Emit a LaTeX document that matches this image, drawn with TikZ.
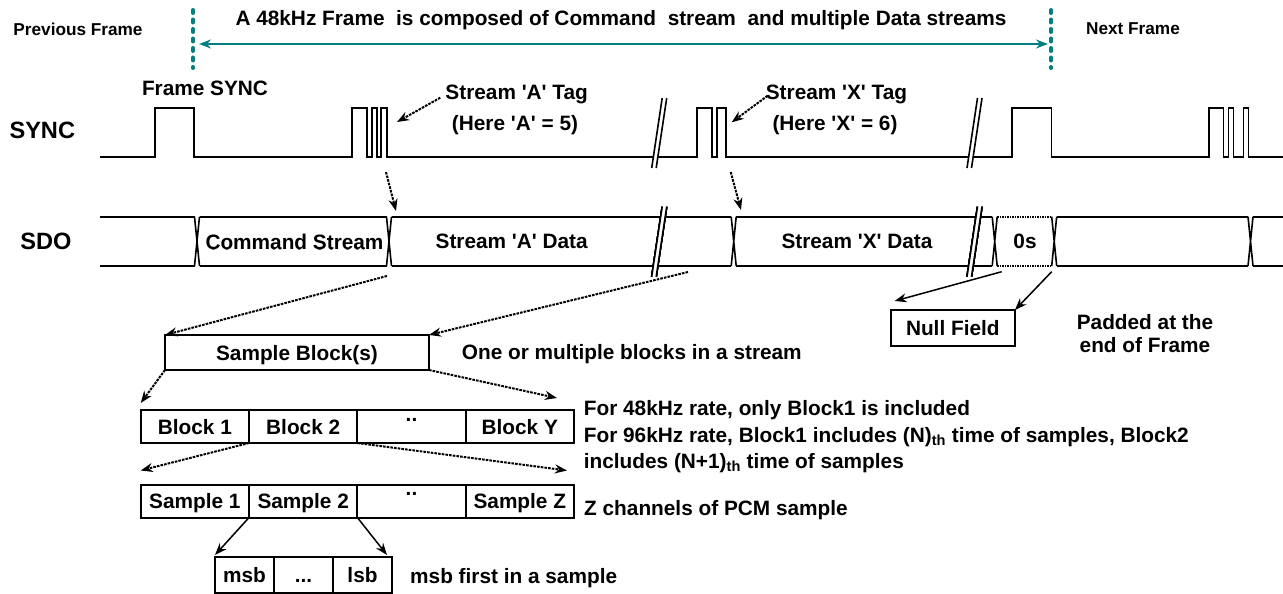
\documentclass[tikz,border=0pt]{standalone}
\usepackage{fontspec}
\setmainfont{Liberation Sans}
\usetikzlibrary{arrows.meta,positioning,calc}
\definecolor{frameteal}{RGB}{0,128,128}
\newcommand{\fsmain}{\fontsize{20.8}{25}\selectfont\bfseries}
\newcommand{\fsbig}{\fontsize{23.6}{28}\selectfont\bfseries}
\newcommand{\fssmall}{\fontsize{17.2}{21}\selectfont\bfseries}
\newcommand{\sq}{\textquotesingle}
\tikzstyle{lab}=[font=\fsmain, inner sep=0pt, text height=15pt, text depth=0pt]
\tikzstyle{sig}=[font=\fsbig, inner sep=0pt]
\tikzstyle{sidelab}=[font=\fssmall, inner sep=0pt]
\tikzstyle{wave}=[line width=1.6pt]
\tikzstyle{cell}=[draw, line width=2pt, outer sep=0pt, inner sep=0pt, font=\fsmain, text height=15pt, text depth=0pt, minimum width=108.3pt, minimum height=33pt]
\tikzstyle{blkbox}=[cell, line width=2.2pt, minimum height=35pt]
\tikzstyle{darr}=[line width=2pt, dash pattern=on 2.6pt off 1.1pt, -{Stealth[length=12pt,width=9pt]}]
\tikzstyle{sarr}=[line width=1.5pt, -{Stealth[length=12pt,width=9pt]}]
\tikzstyle{tarr}=[frameteal, line width=1.8pt, {Stealth[length=12pt,width=9pt]}-{Stealth[length=12pt,width=9pt]}]
\tikzstyle{fline}=[frameteal, line width=4pt, line cap=round, dash pattern=on 3pt off 6.5pt]
% break mark: x at the bottom end, y of the bottom end
\newcommand{\brk}[2]{%
  \fill[white] (#1,#2) -- ++(10.5,-70) -- ++(4.5,0) -- ++(-10.5,70) -- cycle;
  \draw[wave] (#1,#2) -- ++(10.5,-70) (#1+4.5,#2) -- ++(10.5,-70);
}
% data transition on SDO
\newcommand{\xing}[1]{\draw[wave] (#1-2.5,216.7) -- (#1+2.5,266) (#1+2.5,216.7) -- (#1-2.5,266);}

\begin{document}
\begin{tikzpicture}[x=1pt, y=-1pt, node distance=8pt]
      \useasboundingbox (0,0) rectangle (1283,594);
      % frame limits
      \coordinate (fs) at (193,10);
      \coordinate (fe) at (1051,10);
      \draw[fline] (fs) -- ++(0,58);
      \draw[fline] (fe) -- ++(0,58);
      \draw[tarr, shorten <=6pt, shorten >=3pt] ([yshift=-34pt]fs) -- ([yshift=-34pt]fe);
      \node[lab] (title) at (621,18.5) {A 48kHz Frame\ \ is composed of Command\ \ stream\ \ and multiple Data streams};
      \node[sidelab] (prev) at (78,29) {Previous Frame};
      \node[sidelab] (next) at (1133,29) {Next Frame};
      %
      \node[sig] (syncL) at (42.3,130) {SYNC};
      \node[sig] (sdoL) at (46,241) {SDO};
      \draw[wave] (100,157) -| (155,108) -| (194,157) -| (352,108) -| (367,157) -| (372,108) -| (377,157) -| (381,108) -| (387,157)
        -| (696.7,108) -| (711.7,157) -| (716.7,108) -| (726,157) -| (1011.7,108) -| (1051.3,157)
        -| (1209,108) -| (1223.3,157) -| (1228.3,108) -| (1233.3,157) -| (1243.3,108) -| (1248.3,157) -- (1283,157);
      \brk{651.7}{168}
      \brk{967}{168}
      %
      \foreach \a/\b in {100/194.5, 199.5/386.5, 391.5/731.2, 736.2/992.2, 1056.7/1248, 1253/1283}
        \draw[wave] (\a,216.7) -- (\b,216.7) (\a,266) -- (\b,266);
      \draw[wave, dash pattern=on 1.5pt off 1pt] (997.2,216.7) -- (1051.7,216.7) (997.2,266) -- (1051.7,266);
      \foreach \t in {197,389,733.7,994.7,1054.2,1250.5}
        \xing{\t}
      \brk{651.7}{276.7}
      \brk{967}{276.7}
      \node[lab, fill=white] (cmdtxt) at (294.5,241.5) {Command\ Stream};
      \node[lab] (datA) at (511.7,241) {Stream \sq A\sq\ Data};
      \node[lab] (datX) at (857,241) {Stream \sq X\sq\ Data};
      \node[lab] (zeros) at (1025,241) {0s};
      %
      \node[lab] (fsync) at (205,88) {Frame SYNC};
      \node[lab] (tagA) at (516.7,91.7) {Stream \sq A\sq\ Tag};
      \node[lab] (hereA) at (515,123) {(Here \sq A\sq\ = 5)};
      \node[lab] (tagX) at (836.5,91.7) {Stream \sq X\sq\ Tag};
      \node[lab] (hereX) at (835,123) {(Here \sq X\sq\ = 6)};
      \coordinate (tipA) at (397,122);
      \coordinate (tipX) at (731.7,122.3);
      \draw[darr] ([xshift=-5pt,yshift=-6pt]tagA.west) -- (tipA);
      \draw[darr] ([xshift=2pt,yshift=-4pt]tagX.west) -- (tipX);
      \coordinate (upA) at (386,172);
      \coordinate (dnA) at (396,211);
      \coordinate (upX) at (730.7,172);
      \coordinate (dnX) at (741,210);
      \draw[darr] (upA) -- (dnA);
      \draw[darr] (upX) -- (dnX);
      %
      \node[blkbox, minimum width=264pt] (blk) at (297,352.5) {Sample Block(s)};
      \node[lab, anchor=west] (multi) at (461.7,351.7) {One or multiple blocks in a stream};
      \coordinate (cA) at (387,276);
      \coordinate (cB) at (688,272);
      \draw[darr] (cA) -- (blk.north west);
      \draw[darr] (cB) -- (blk.north east);
      %
      \node[cell] (b1) at (194.9,426.5) {Block 1};
      \node[cell, right=0pt of b1] (b2) {Block 2};
      \node[cell, right=0pt of b2] (b3) {\raisebox{13pt}{..}};
      \node[cell, right=0pt of b3] (bY) {Block Y};
      \draw[darr] (blk.south west) -- ([yshift=7pt]b1.north west);
      \draw[darr] (blk.south east) -- ([xshift=-17pt,yshift=12pt]bY.north east);
      \node[lab, anchor=west] (r48) at (583.7,408) {For 48kHz rate, only Block1 is included};
      \node[lab, anchor=west] (r96) at (583.7,434.5) {For 96kHz rate, Block1 includes (N)\textsubscript{th} time of samples, Block2};
      \node[lab, anchor=west] (r96b) at (583.7,460.5) {includes (N+1)\textsubscript{th} time of samples};
      %
      \node[cell] (s1) at (194.9,501) {Sample 1};
      \node[cell, right=0pt of s1] (s2) {Sample 2};
      \node[cell, right=0pt of s2] (s3) {\raisebox{13pt}{..}};
      \node[cell, right=0pt of s3] (sZ) {Sample Z};
      \draw[darr] (b2.south west) -- ([yshift=14pt]s1.north west);
      \draw[darr] (b2.south east) -- ([xshift=-7pt,yshift=14pt]sZ.north east);
      \node[lab, anchor=west] (zch) at (584,508) {Z channels of PCM sample};
      %
      \node[cell, minimum width=59pt, minimum height=36pt] (msb) at (244.5,575) {msb};
      \node[cell, minimum width=59pt, minimum height=36pt, right=0pt of msb] (bdots) {...};
      \node[cell, minimum width=59pt, minimum height=36pt, right=0pt of bdots] (lsb) {lsb};
      \draw[sarr] (s2.south west) -- ([yshift=2pt]msb.north west);
      \draw[sarr] (s2.south east) -- ([xshift=-5pt,yshift=2pt]lsb.north east);
      \node[lab, anchor=west] (msbtxt) at (410,576) {msb first in a sample};
      %
      \node[blkbox, minimum width=124.3pt, minimum height=36pt] (null) at (952.8,328) {Null Field};
      \coordinate (z1) at (1001.7,271.7);
      \coordinate (z2) at (1051.7,271.7);
      \draw[sarr] (z1) -- ([xshift=4pt,yshift=9pt]null.north west);
      \draw[sarr] (z2) -- (null.north east);
      \node[lab] (pad1) at (1145,321.7) {Padded at the};
      \node[lab, below=8.3pt of pad1] (pad2) {end of Frame};
\end{tikzpicture}
\end{document}
